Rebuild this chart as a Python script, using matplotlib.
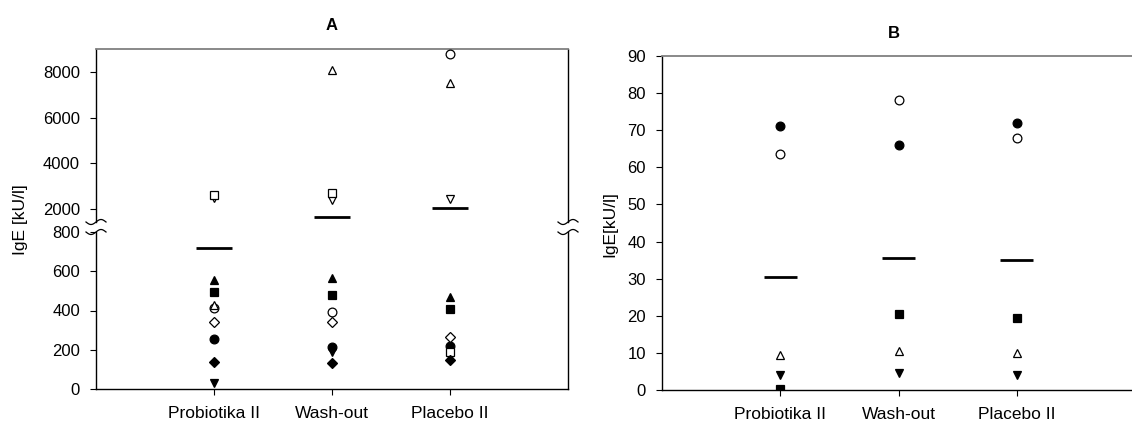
import numpy as np
import matplotlib
matplotlib.use("Agg")
import matplotlib.pyplot as plt
from matplotlib.lines import Line2D

plt.rcParams["font.family"] = ["Liberation Sans", "DejaVu Sans"]

groups = ["Probiotika II", "Wash-out", "Placebo II"]

# panel A: one value per subject for each group (Probiotika II, Wash-out, Placebo II)
a_filled_circle = [257, 213, 220]
a_open_circle = [412, 390, 8765]
a_filled_down = [29, 190, 165]
a_open_down = [2470, 2400, 2441]
a_filled_square = [495, 477, 408]
a_open_square = [2600, 2720, 186]
a_filled_diamond = [140, 134, 148]
a_open_diamond = [342, 339, 267]
a_filled_up = [557, 565, 471]
a_open_up = [429, 8100, 7500]
a_means = [718, 1650, 2050]

# panel B
b_filled_circle = [71.2, 65.9, 71.9]
b_open_circle = [63.6, 78.1, 68.0]
b_filled_square = [0.4, 20.5, 19.4]
b_open_up = [9.4, 10.4, 10.1]
b_filled_down = [4.1, 4.7, 4.0]
b_means = [30.5, 35.6, 35.0]

a_series = [
    (a_filled_circle, "o", True), (a_open_circle, "o", False),
    (a_filled_down, "v", True), (a_open_down, "v", False),
    (a_filled_square, "s", True), (a_open_square, "s", False),
    (a_filled_diamond, "D", True), (a_open_diamond, "D", False),
    (a_filled_up, "^", True), (a_open_up, "^", False),
]
b_series = [
    (b_filled_circle, "o", True), (b_open_circle, "o", False),
    (b_filled_square, "s", True), (b_open_up, "^", False),
    (b_filled_down, "v", True),
]

marker_size = {"o": 6.3, "v": 6.3, "^": 6.3, "s": 5.6, "D": 5.3}

W, H = 1132, 424
fig = plt.figure(figsize=(W / 100, H / 100), dpi=100)


def px_box(left, top, right, bottom):
    return [left / W, (H - bottom) / H, (right - left) / W, (bottom - top) / H]


ax_lo = fig.add_axes(px_box(96, 232, 568, 389))
ax_hi = fig.add_axes(px_box(96, 49, 568, 222))
ax_b = fig.add_axes(px_box(662, 56, 1135, 390))

x = np.arange(1, len(groups) + 1)
lo_max = 800


def draw_points(ax, series, keep):
    for vals, m, filled in series:
        v = np.array(vals, dtype=float)
        mask = keep(v)
        ax.plot(x[mask], v[mask], linestyle="none", marker=m,
                ms=marker_size[m], mec="black", mew=0.9,
                mfc="black" if filled else "white", zorder=3)


draw_points(ax_lo, a_series, lambda v: v <= lo_max)
draw_points(ax_hi, a_series, lambda v: v > lo_max)
draw_points(ax_b, b_series, lambda v: v == v)

am = np.array(a_means, dtype=float)
ax_lo.hlines(am[am <= lo_max], x[am <= lo_max] - 0.15, x[am <= lo_max] + 0.15,
             colors="black", lw=2)
ax_hi.hlines(am[am > lo_max], x[am > lo_max] - 0.15, x[am > lo_max] + 0.15,
             colors="black", lw=2)
ax_b.hlines(b_means, x - 0.14, x + 0.14, colors="black", lw=2)

ax_lo.set_ylim(0, 800)
ax_lo.set_yticks([0, 200, 400, 600, 800])
ax_hi.set_ylim(1430, 9000)
ax_hi.set_yticks([2000, 4000, 6000, 8000])
ax_b.set_ylim(0, 90)
ax_b.set_yticks(np.arange(0, 91, 10))

for ax in (ax_lo, ax_hi, ax_b):
    ax.set_xlim(0, 4)
    ax.tick_params(direction="out", length=4, width=0.8, labelsize=12,
                   colors="black", pad=7.5)
    ax.tick_params(axis="x", pad=8.5, labelsize=12.5)
    for s in ax.spines.values():
        s.set_linewidth(1)
        s.set_color("black")

for ax in (ax_lo, ax_b):
    ax.set_xticks(x)
    ax.set_xticklabels(groups)

ax_hi.set_xticks([])
ax_hi.spines["bottom"].set_visible(False)
ax_lo.spines["top"].set_visible(False)
ax_hi.spines["top"].set_color("#808080")
ax_b.spines["top"].set_color("#808080")
ax_b.spines["top"].set_linewidth(1.3)
ax_hi.spines["top"].set_linewidth(1.3)

# break marks on both spines of panel A
t = np.linspace(-1, 1, 30)
for sx in (96, 568):
    for sy in (222, 232):
        xs = (sx + 10 * t) / W
        ys = (H - (sy - 2.5 * np.sin(np.pi * t))) / H
        fig.add_artist(Line2D(xs, ys, color="black", lw=0.9,
                              transform=fig.transFigure))

fig.text(21 / W, 1 - 220 / H, "IgE [kU/l]", rotation=90, ha="center",
         va="center", fontsize=12.5)
fig.text(610 / W, 1 - 224 / H, "IgE[kU/l]", rotation=90, ha="center",
         va="center", fontsize=12.5)
fig.text(332 / W, 1 - 25 / H, "A", ha="center", va="center",
         fontsize=12, fontweight="bold")
fig.text(894 / W, 1 - 33 / H, "B", ha="center", va="center",
         fontsize=12, fontweight="bold")

fig.savefig("out.png", dpi=100)
